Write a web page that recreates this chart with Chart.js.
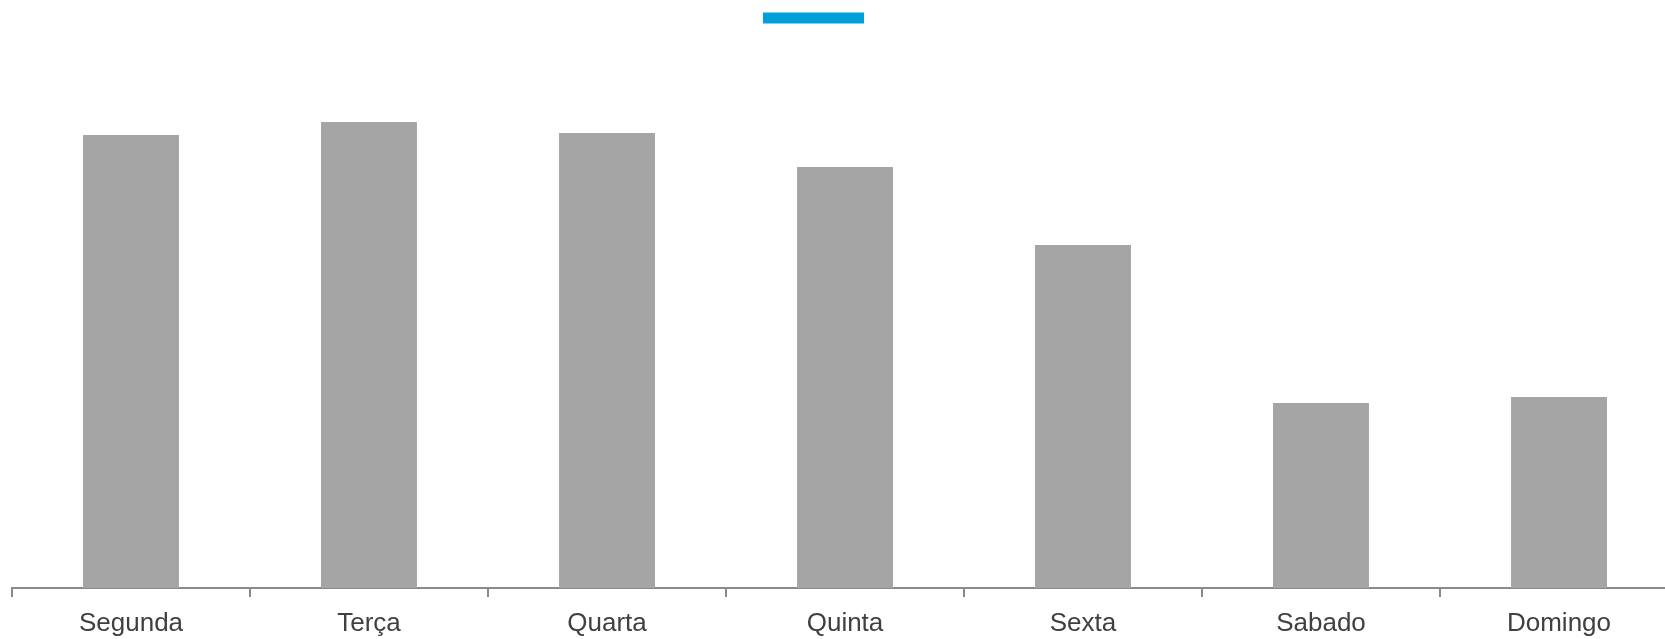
<!DOCTYPE html>
<html>
<head>
<meta charset="utf-8">
<script src="https://cdn.jsdelivr.net/npm/chart.js@4/dist/chart.umd.min.js"></script>
<style>
  html, body { margin: 0; padding: 0; overflow: hidden; background: #fff; }
  #wrap { position: absolute; left: -45px; top: 0; }
</style>
</head>
<body>
<div id="wrap"><canvas id="chart" width="1723" height="639"></canvas></div>
<script>
const days = ["Segunda", "Terça", "Quarta", "Quinta", "Sexta", "Sabado", "Domingo"];
const values = [45.3, 46.6, 45.5, 42.1, 34.3, 18.5, 19.1];
const yMax = 55.4;

const ctx = document.getElementById("chart");
const chart = new Chart(ctx, {
  type: "bar",
  data: {
    labels: days,
    datasets: [
      {
        label: "",
        data: values,
        backgroundColor: "#a5a5a5",
        borderWidth: 0,
        barPercentage: 0.403,
        categoryPercentage: 1,
      },
    ],
  },
  options: {
    responsive: false,
    animation: false,
    devicePixelRatio: 1,
    layout: { padding: 0 },
    scales: {
      x: {
        grid: {
          drawOnChartArea: false,
          tickLength: 9,
          color: "#8a8a8a",
          lineWidth: 2,
        },
        border: { display: true, color: "#8a8a8a", width: 2 },
        ticks: {
          color: "#404040",
          padding: 11,
          font: { family: "'Liberation Sans', Arial", size: 26 },
        },
        afterFit: (s) => { s.height = 51; },
      },
      y: {
        min: 0,
        max: yMax,
        grid: { display: false },
        border: { display: false },
        ticks: { display: false },
        afterFit: (s) => { s.width = 57; },
      },
    },
    plugins: {
      title: { display: false },
      tooltip: { enabled: false },
      legend: {
        display: true,
        position: "top",
        align: "center",
        labels: {
          boxWidth: 101,
          boxHeight: 11,
          padding: 12,
          font: { size: 12 },
          generateLabels: () => [{ text: "", fillStyle: "#009fdb", strokeStyle: "#009fdb", lineWidth: 0 }],
        },
      },
    },
  },
});
</script>
</body>
</html>
